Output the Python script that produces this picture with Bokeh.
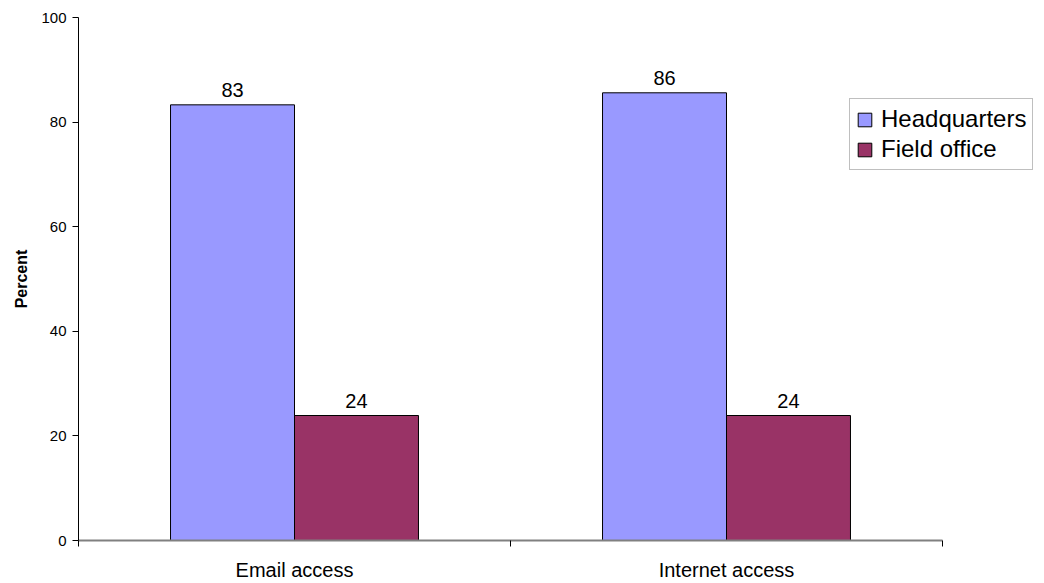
import numpy as np
from bokeh.plotting import figure
from bokeh.models import ColumnDataSource, FixedTicker, Legend, LegendItem, LabelSet, Range1d
from bokeh.core.properties import value
from bokeh.transform import dodge
from bokeh.embed import file_html
from bokeh.resources import INLINE

categories = ["Email access", "Internet access"]
headquarters = [83.3, 85.6]
field_office = [23.9, 23.9]
series_names = ["Headquarters", "Field office"]
colors = ["#9999FF", "#993366"]
y_ticks = [0, 20, 40, 60, 80, 100]

FONT = "Liberation Sans"
bar_w = 0.287

# frame extends to the right canvas edge so the legend is not clipped;
# the category axis itself only spans the categories
plot_frame_w = 966
axis_w = 864
n = len(categories)
x_end = n * plot_frame_w / axis_w

xs = list(np.arange(n) + 0.5)
src = ColumnDataSource(dict(
    x=xs, hq=headquarters, fo=field_office,
    hq_lbl=[f"{round(v)}" for v in headquarters],
    fo_lbl=[f"{round(v)}" for v in field_office],
))

p = figure(width=1044, height=583, output_backend="svg", toolbar_location=None,
           x_range=Range1d(0, x_end), y_range=Range1d(0, 100),
           min_border_left=78, min_border_right=0, min_border_top=17, min_border_bottom=42)
p.outline_line_color = None
p.xgrid.grid_line_color = None
p.ygrid.grid_line_color = None
p.background_fill_color = "white"
p.border_fill_color = "white"

r1 = p.vbar(x=dodge("x", -bar_w / 2, range=p.x_range), top="hq", width=bar_w, source=src,
            fill_color=colors[0], line_color="black", line_width=1)
r2 = p.vbar(x=dodge("x", bar_w / 2, range=p.x_range), top="fo", width=bar_w, source=src,
            fill_color=colors[1], line_color="black", line_width=1)

for fld, lbl, off in [("hq", "hq_lbl", -bar_w / 2), ("fo", "fo_lbl", bar_w / 2)]:
    ls = LabelSet(x=dodge("x", off, range=p.x_range), y=fld, text=lbl, source=src,
                  text_align="center", text_baseline="bottom", y_offset=8,
                  text_font=value(FONT), text_font_size="20px", text_color="black")
    p.add_layout(ls)

# x axis
xa = p.xaxis[0]
xa.bounds = (0, n)
xa.ticker = FixedTicker(ticks=xs, minor_ticks=list(range(n + 1)))
xa.major_label_overrides = {x: c for x, c in zip(xs, categories)}
xa.major_tick_out = 0
xa.major_tick_in = 0
xa.minor_tick_out = 6
xa.minor_tick_in = 0
xa.minor_tick_line_color = "black"
xa.axis_line_color = "#808080"
xa.axis_line_width = 2
xa.major_label_text_font = FONT
xa.major_label_text_font_size = "20px"
xa.major_label_text_color = "black"
xa.major_label_standoff = 12

# y axis
ya = p.yaxis[0]
ya.ticker = FixedTicker(ticks=y_ticks)
ya.major_tick_out = 6
ya.major_tick_in = 0
ya.minor_tick_line_color = None
ya.axis_line_color = "black"
ya.major_label_text_font = FONT
ya.major_label_text_font_size = "15px"
ya.major_label_text_color = "black"
ya.major_label_standoff = 6
ya.axis_label = "Percent"
ya.axis_label_text_font = FONT
ya.axis_label_text_font_size = "16px"
ya.axis_label_text_font_style = "bold"
ya.axis_label_text_color = "black"
ya.axis_label_standoff = 8

legend = Legend(items=[LegendItem(label=series_names[0], renderers=[r1]),
                       LegendItem(label=series_names[1], renderers=[r2])],
                location=(771, 370), orientation="vertical")
legend.label_text_font = FONT
legend.label_text_font_size = "24px"
legend.label_text_color = "black"
legend.glyph_width = 17
legend.glyph_height = 17
legend.label_standoff = 8
legend.spacing = 2
legend.padding = 6
legend.margin = 0
legend.border_line_color = "#808080"
legend.border_line_width = 1
legend.background_fill_color = "white"
legend.background_fill_alpha = 1
p.add_layout(legend)

open("out.html", "w").write(file_html(p, INLINE))
